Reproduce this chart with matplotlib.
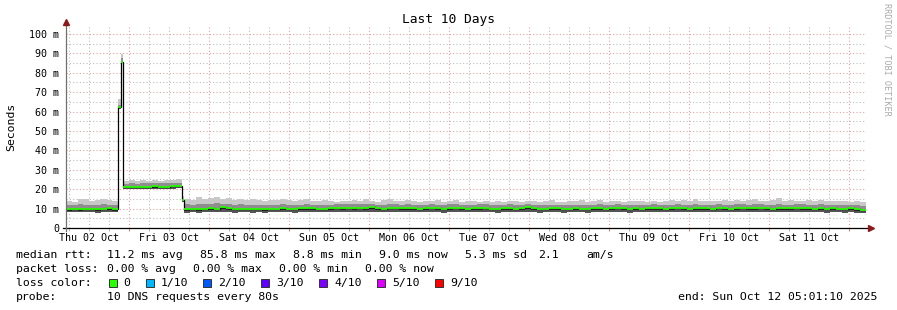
import numpy as np
import matplotlib.pyplot as plt
from matplotlib.patches import Rectangle
from matplotlib.transforms import blended_transform_factory

plt.rcParams['font.family'] = ['DejaVu Sans Mono', 'DejaVu Sans']

# time in hours since Thu 02 Oct 00:00; segments: before spike, spike (2), plateau, step, rest
seg_edges = [5.02, 20.71, 21.43, 22.03, 39.82, 40.42, 245.02]
seg_bins = [9, 1, 1, 10, 1, 114]

# median rtt (ms)
med = [9.6, 9.8, 9.7, 10.0, 9.8, 9.6, 9.9, 10.1, 9.7,
       62.3, 85.8,
       21.2, 21.0, 21.3, 21.1, 21.2, 21.4, 21.1, 21.3, 21.5, 21.6,
       14.3,
       9.6, 9.8, 9.7, 10.0, 10.2, 9.9, 10.6, 10.1, 9.8, 9.9, 10.0, 9.8, 9.9,
       9.7, 10.0, 9.9, 10.2, 10.0, 9.8, 10.1, 10.3, 10.1, 9.9, 10.0, 10.2, 10.4,
       10.3, 10.5, 10.2, 10.4, 10.1, 10.6, 10.3, 10.0, 10.4, 10.5, 10.2, 10.3, 10.1,
       10.0, 10.2, 10.4, 10.1, 9.9, 10.3, 10.5, 10.2, 10.0, 10.1, 10.3, 10.4, 10.0,
       9.9, 10.1, 10.3, 10.0, 10.2, 10.6, 10.1, 9.8, 10.0, 10.2, 10.1, 9.9, 10.0,
       10.2, 10.0, 9.9, 10.1, 10.3, 10.0, 10.2, 10.4, 10.1, 9.9, 10.2, 10.0, 10.1,
       10.3, 10.1, 10.0, 10.2, 10.4, 10.2, 10.0, 10.3, 10.1, 10.2, 10.0, 10.4, 10.2,
       10.0, 10.3, 10.5, 10.2, 10.1, 10.4, 10.2, 10.0, 10.3, 10.1, 10.2, 10.5, 10.3,
       10.1, 10.0, 10.3, 9.9, 10.2, 10.0, 9.8, 10.1, 9.7, 9.4]

# smoke: max ping
hi = [14.0, 13.5, 15.2, 14.8, 13.8, 14.6, 15.0, 14.2, 13.9,
      66.5, 89.7,
      24.0, 24.5, 24.2, 24.8, 24.3, 24.6, 24.4, 24.9, 24.5, 25.0,
      16.5,
      15.2, 14.6, 15.8, 14.9, 15.5, 16.0, 14.8, 15.3, 14.5, 15.0, 14.2, 14.7, 14.4,
      14.0, 14.6, 14.3, 15.1, 14.2, 13.8, 14.5, 14.9, 14.1, 13.7, 14.3, 14.0, 13.6,
      14.1, 13.8, 14.5, 13.9, 14.7, 14.0, 13.6, 14.3, 15.1, 13.9, 13.7, 14.4, 13.8,
      13.5, 14.0, 13.7, 14.2, 13.4, 13.9, 14.3, 13.6, 13.8, 14.1, 13.5, 13.9, 13.6,
      13.9, 13.4, 14.1, 13.7, 13.5, 14.0, 13.8, 13.3, 13.9, 14.2, 13.6, 13.4, 13.8,
      13.7, 14.2, 13.5, 13.9, 14.4, 13.6, 13.8, 14.1, 13.5, 13.9, 13.7, 14.0, 13.6,
      14.0, 13.6, 13.9, 14.3, 13.7, 14.5, 13.8, 15.2, 14.1, 13.7, 14.0, 13.8, 14.3,
      13.9, 14.2, 13.7, 14.6, 15.0, 13.8, 14.1, 14.4, 15.3, 13.9, 14.2, 13.8, 14.0,
      14.3, 13.9, 14.5, 13.8, 14.1, 13.7, 14.0, 13.6, 13.9, 13.5]

# smoke: upper inner ping
hi2 = [11.8, 11.6, 12.2, 12.0, 11.7, 12.1, 12.3, 11.9, 11.8,
       63.5, 87.5,
       22.8, 23.0, 22.9, 23.2, 23.0, 23.1, 23.0, 23.3, 23.2, 23.4,
       15.2,
       12.4, 12.1, 12.6, 12.3, 12.5, 12.8, 12.2, 12.4, 12.0, 12.3, 11.9, 12.1, 12.0,
       11.8, 12.1, 12.0, 12.3, 12.0, 11.7, 12.1, 12.4, 12.0, 11.8, 12.0, 12.1, 12.2,
       12.2, 12.3, 12.4, 12.2, 12.3, 12.5, 12.1, 12.0, 12.4, 12.5, 12.1, 12.3, 12.0,
       11.9, 12.1, 12.3, 12.0, 11.8, 12.2, 12.4, 12.1, 11.9, 12.0, 12.2, 12.3, 11.9,
       11.9, 12.0, 12.2, 11.9, 12.1, 12.4, 12.0, 11.8, 11.9, 12.1, 12.0, 11.8, 11.9,
       12.1, 11.9, 11.8, 12.0, 12.2, 11.9, 12.1, 12.3, 12.0, 11.8, 12.1, 11.9, 12.0,
       12.2, 12.0, 11.9, 12.1, 12.3, 12.1, 11.9, 12.4, 12.0, 12.1, 11.9, 12.3, 12.1,
       11.9, 12.2, 12.4, 12.1, 12.2, 12.3, 12.1, 11.9, 12.4, 12.0, 12.1, 12.4, 12.2,
       12.0, 11.9, 12.2, 11.8, 12.1, 11.9, 11.7, 12.0, 11.7, 11.5]

# smoke: lower inner ping
lo2 = [9.0, 9.1, 9.0, 9.2, 9.1, 8.9, 9.1, 9.3, 9.0,
       61.8, 85.3,
       20.6, 20.5, 20.7, 20.6, 20.6, 20.8, 20.6, 20.7, 20.9, 21.0,
       13.8,
       8.9, 9.1, 9.0, 9.3, 9.4, 9.2, 9.7, 9.3, 9.1, 9.2, 9.3, 9.1, 9.2,
       9.0, 9.3, 9.2, 9.4, 9.3, 9.1, 9.4, 9.5, 9.4, 9.2, 9.3, 9.4, 9.6,
       9.5, 9.7, 9.4, 9.6, 9.4, 9.8, 9.5, 9.3, 9.6, 9.7, 9.4, 9.5, 9.4,
       9.3, 9.4, 9.6, 9.4, 9.2, 9.5, 9.7, 9.4, 9.3, 9.4, 9.5, 9.6, 9.3,
       9.2, 9.4, 9.5, 9.3, 9.4, 9.8, 9.4, 9.1, 9.3, 9.4, 9.4, 9.2, 9.3,
       9.4, 9.3, 9.2, 9.4, 9.5, 9.3, 9.4, 9.6, 9.4, 9.2, 9.4, 9.3, 9.4,
       9.5, 9.4, 9.3, 9.4, 9.6, 9.4, 9.3, 9.5, 9.4, 9.4, 9.3, 9.6, 9.4,
       9.3, 9.5, 9.7, 9.4, 9.4, 9.6, 9.4, 9.3, 9.5, 9.4, 9.4, 9.7, 9.5,
       9.4, 9.3, 9.5, 9.2, 9.4, 9.3, 9.1, 9.4, 9.0, 8.8]

# smoke: min ping
lo = [8.0, 8.1, 8.0, 8.2, 8.1, 7.9, 8.1, 8.3, 8.0,
      61.2, 84.8,
      20.0, 19.9, 20.1, 20.0, 20.0, 20.2, 20.0, 20.1, 20.3, 20.4,
      13.2,
      7.9, 8.0, 7.9, 8.1, 8.2, 8.0, 8.3, 8.1, 7.9, 8.0, 8.1, 7.9, 8.0,
      7.8, 8.1, 8.0, 8.2, 8.1, 7.9, 8.2, 8.3, 8.1, 8.0, 8.1, 8.2, 8.3,
      8.2, 8.4, 8.1, 8.3, 8.1, 8.5, 8.2, 8.0, 8.3, 8.4, 8.1, 8.2, 8.1,
      8.0, 8.1, 8.3, 8.1, 7.9, 8.2, 8.4, 8.1, 8.0, 8.1, 8.2, 8.3, 8.0,
      7.9, 8.1, 8.2, 8.0, 8.1, 8.4, 8.1, 7.8, 8.0, 8.1, 8.1, 7.9, 8.0,
      8.1, 8.0, 7.9, 8.1, 8.2, 8.0, 8.1, 8.3, 8.1, 7.9, 8.1, 8.0, 8.1,
      8.2, 8.1, 8.0, 8.1, 8.3, 8.1, 8.0, 8.2, 8.1, 8.1, 8.0, 8.3, 8.1,
      8.0, 8.2, 8.4, 8.1, 8.1, 8.3, 8.1, 8.0, 8.2, 8.1, 8.1, 8.4, 8.2,
      8.1, 8.0, 8.2, 7.9, 8.1, 8.0, 7.8, 8.1, 7.7, 7.6]

day_labels = ['Thu 02 Oct', 'Fri 03 Oct', 'Sat 04 Oct', 'Sun 05 Oct', 'Mon 06 Oct',
              'Tue 07 Oct', 'Wed 08 Oct', 'Thu 09 Oct', 'Fri 10 Oct', 'Sat 11 Oct']
loss_labels = ['0', '1/10', '2/10', '3/10', '4/10', '5/10', '9/10']
loss_colors = ['#26ff00', '#00b8ff', '#0059ff', '#5e00ff', '#7e00ff', '#dd00ff', '#ff0000']

edges = np.concatenate([np.linspace(a, b, n + 1)[:-1]
                        for a, b, n in zip(seg_edges[:-1], seg_edges[1:], seg_bins)]
                       + [[seg_edges[-1]]])
med = np.array(med)

W, H = 897, 310
fig = plt.figure(figsize=(W / 100, H / 100), dpi=100)
fig.patch.set_facecolor('white')
ax = fig.add_axes([66 / W, (H - 228) / H, 800 / W, 202 / H])
ax.set_xlim(seg_edges[0], seg_edges[-1])
ax.set_ylim(0, 104.1)
ax.set_axisbelow(True)

# smoke
ax.stairs(hi, edges, baseline=lo, fill=True, color='#c8c8c8', lw=0, zorder=2)
ax.stairs(hi2, edges, baseline=lo, fill=True, color='#8e8e8e', lw=0, zorder=2)
ax.stairs(lo2, edges, baseline=lo, fill=True, color='#555555', lw=0, zorder=2)
ax.stairs(med, edges, baseline=lo2, fill=True, color='#262626', lw=0, zorder=2)

# median line
ax.stairs(med, edges, baseline=None, color='black', lw=0.9, zorder=3)
ax.hlines(med, edges[:-1], edges[1:], color=loss_colors[0], lw=1.3, zorder=4)

# grid
ax.set_xticks(np.arange(24, seg_edges[-1], 24))
ax.set_xticks(np.arange(6, seg_edges[-1], 6), minor=True)
ax.set_yticks(np.arange(0, 101, 10), ['0'] + ['%d m' % v for v in range(10, 101, 10)])
ax.set_yticks(np.arange(5, 101, 10), minor=True)
ax.grid(which='major', color='#e8a0a0', ls=(0, (1, 2)), lw=0.8)
ax.grid(which='minor', color='#bdbdbd', ls=(0, (1, 2)), lw=0.8)
ax.tick_params(axis='x', which='major', length=2.5, color='#e08080', direction='out',
               labelbottom=False)
ax.tick_params(axis='x', which='minor', length=2.5, color='#b0b0b0', direction='out')
ax.tick_params(axis='y', which='both', length=0, pad=5, labelsize=7.2)
for s in ax.spines.values():
    s.set_visible(False)

# day labels at noon
tr = blended_transform_factory(ax.transData, ax.transAxes)
for i, lab in enumerate(day_labels):
    ax.text(12 + 24 * i, -10 / 202, lab, transform=tr, ha='center', va='center',
            fontsize=7.2)

# axes with arrows
ax.plot([-3 / 800, 1 + 4 / 800], [0, 0], transform=ax.transAxes, color='black',
        lw=0.9, clip_on=False, zorder=5)
ax.plot([0, 0], [-3 / 202, 1 + 3 / 202], transform=ax.transAxes, color='#707070',
        lw=0.9, clip_on=False, zorder=5)
ax.plot([1 + 5 / 800], [0], marker='>', ms=4, color='#8b1a1a', transform=ax.transAxes,
        clip_on=False, zorder=6)
ax.plot([0], [1 + 4 / 202], marker='^', ms=4, color='#8b1a1a', transform=ax.transAxes,
        clip_on=False, zorder=6)

def ftext(x, y, s, **kw):
    fig.text(x / W, 1 - y / H, s, **kw)

ftext(448, 19, 'Last 10 Days', ha='center', va='center', fontsize=9.3)
ftext(11, 127, 'Seconds', ha='center', va='center', rotation=90, fontsize=8.25)
ftext(887, 59, 'RRDTOOL / TOBI OETIKER', ha='center', va='center', rotation=270,
      fontsize=6.1, color='#aaaaaa')

lf = dict(fontsize=8.25, va='baseline')
rows = [258.3, 272.3, 286.3, 300]
row1 = [(16, 'median rtt:'), (107.3, '11.2 ms avg'), (200, '85.8 ms max'),
        (293.3, '8.8 ms min'), (379.3, '9.0 ms now'), (465, '5.3 ms sd'),
        (538, '2.1'), (586.7, 'am/s')]
row2 = [(16, 'packet loss:'), (107.3, '0.00 % avg'), (193.3, '0.00 % max'),
        (279.3, '0.00 % min'), (365.3, '0.00 % now')]
for x, s in row1:
    ftext(x, rows[0], s, **lf)
for x, s in row2:
    ftext(x, rows[1], s, **lf)
ftext(16, rows[2], 'loss color:', **lf)
box_x = [108.7, 146, 203.3, 261.3, 319, 377, 435]
for bx, lab, c in zip(box_x, loss_labels, loss_colors):
    fig.patches.append(Rectangle((bx / W, 1 - 286.5 / H), 8 / W, 8 / H,
                                 transform=fig.transFigure, facecolor=c,
                                 edgecolor='#333333', lw=0.7))
    ftext(bx + 15, rows[2], lab, **lf)
ftext(16, rows[3], 'probe:', **lf)
ftext(107.3, rows[3], '10 DNS requests every 80s', **lf)
ftext(678.3, rows[3], 'end: Sun Oct 12 05:01:10 2025', **lf)

fig.savefig('out.png', dpi=100)
